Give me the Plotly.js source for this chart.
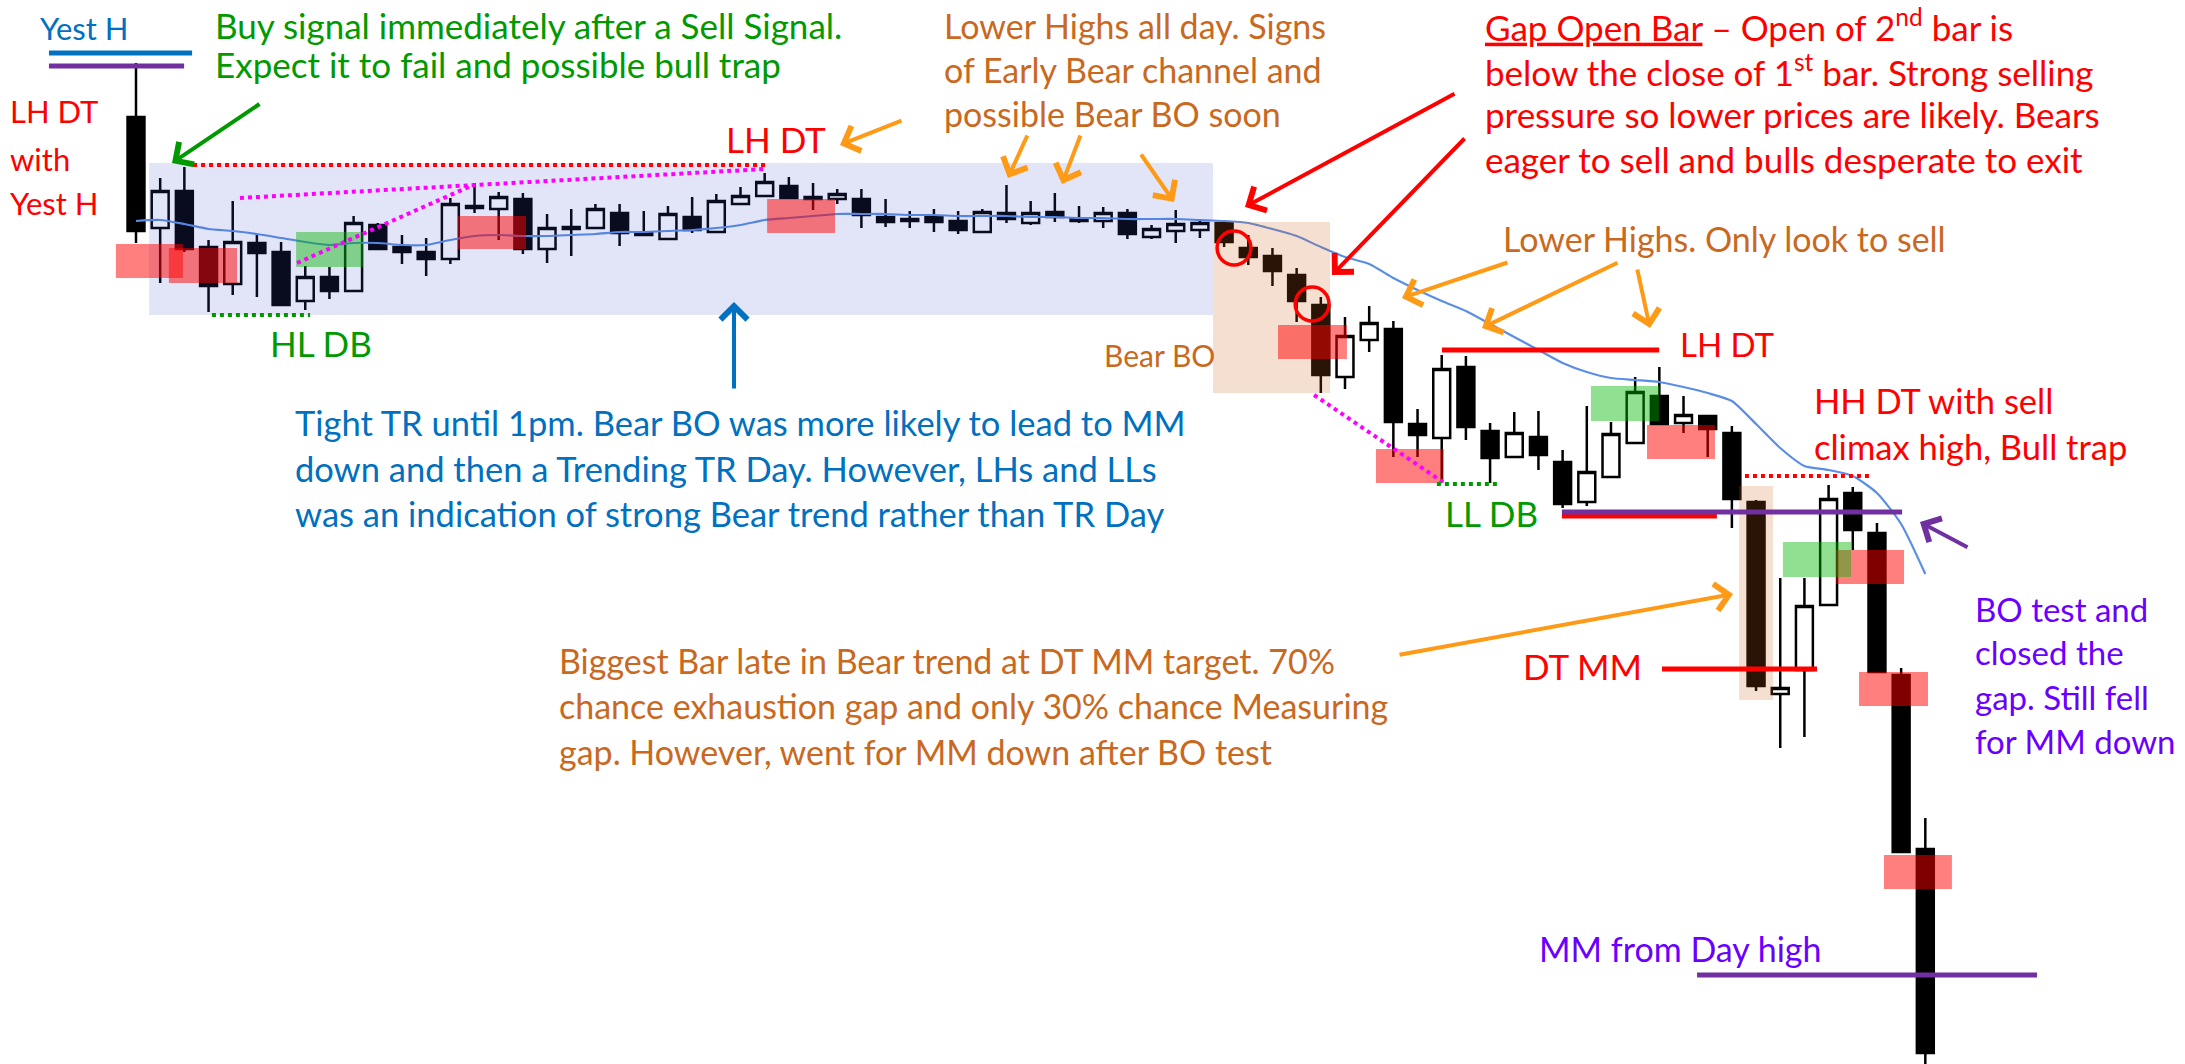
<!DOCTYPE html>
<html><head><meta charset="utf-8">
<script src="https://cdn.plot.ly/plotly-3.0.1.min.js"></script>
<style>html,body{margin:0;padding:0;background:#fff;overflow:hidden}#chart{width:2185px;height:1064px}</style>
</head><body><div id="chart"></div>
<script>
// ---- data (bar index, price units) ----
const bars = Array.from({length: 75}, (_, i) => i);
const open = [947,836,873,817,780,821,812,763,787,773,
 839,817,812,805,858,855,865,815,837,836,
 851,831,825,847,832,860,868,878,867,865,
 865,847,845,847,843,832,851,841,852,845,
 843,851,827,833,834,841,816,808,789,759,
 687,724,735,640,626,697,633,607,627,602,
 562,587,621,668,641,648,631,562,370,394,
 459,571,531,389,215];
const high = [1001,886,897,824,863,830,822,798,797,848,
 841,829,826,866,881,872,871,850,855,860,
 860,853,858,867,870,877,891,887,881,875,
 875,865,853,855,853,855,879,863,871,858,
 857,855,839,854,844,843,829,816,796,767,
 747,758,743,655,709,708,641,652,653,614,
 658,642,687,697,668,649,638,564,486,486,
 579,577,541,396,246];
const low = [821,781,812,752,769,767,758,754,765,772,
 814,800,788,800,851,824,810,801,808,835,
 818,828,824,831,831,859,867,865,854,860,
 836,837,836,832,830,831,841,839,842,841,
 836,825,825,821,826,817,799,778,742,671,
 675,712,607,607,582,624,581,606,594,556,
 558,586,620,639,631,607,536,373,316,327,
 458,514,391,211,0];
const close = [833,873,815,778,822,811,759,787,773,841,
 815,812,805,860,856,867,815,836,835,855,
 831,829,850,834,863,868,882,866,865,870,
 849,842,843,842,834,852,845,851,847,843,
 851,830,835,840,841,822,807,793,763,689,
 728,741,642,629,695,637,606,631,609,560,
 592,630,672,640,649,635,565,378,376,458,
 565,534,392,212,11];
const ema = [843,844,840,835,833,830,826,822,819,821,
 821,819,819,824,828,829,828,828,829,830,
 832,832,833,834,836,839,844,846,848,850,
 850,850,849,849,848,848,848,847,847,846,
 846,845,845,845,844,843,841,835,828,817,
 807,800,786,774,763,753,740,727,714,701,
 692,686,684,682,677,671,663,640,616,598,
 594,588,571,540,490];

// ---- styling ----
const W = 2185, H = 1064;
const FONT = 'Lato, Carlito, sans-serif';
const RED = '#ff0000', GREEN = '#009a00', ORANGE_T = '#c9691f', ORANGE_A = '#ff9a17',
      BLUE_T = '#0070c0', PURPLE_L = '#7030a0', PURPLE_T = '#6a00ff', MAG = '#ff00ff';
const REDFILL = 'rgba(255,0,0,0.5)', GREENFILL = 'rgba(0,180,0,0.43)',
      LAV = 'rgba(60,80,200,0.15)', PEACH = 'rgba(205,95,20,0.2)';

function rect(x0, x1, y0, y1, fill) {
  return {type:'rect', xref:'x', yref:'y', x0, x1, y0, y1, fillcolor: fill, line:{width:0}, layer:'above'};
}
function seg(x0, x1, y0, y1, color, width, dash) {
  return {type:'line', xref:'x', yref:'y', x0, x1, y0, y1, layer:'above',
          line:{color, width, dash: dash || 'solid'}};
}
function circ(cx, cy) {
  return {type:'circle', xref:'x', yref:'y', x0: cx-0.7, x1: cx+0.7, y0: cy-17, y1: cy+17,
          line:{color: RED, width: 3.5}, layer:'above'};
}
const shapes = [
  rect(0.54, 44.54, 749, 901, LAV),
  rect(44.54, 49.38, 671, 842, PEACH),
  rect(66.3, 67.7, 364, 578, PEACH),
  rect(-0.83, 1.94, 786, 820, REDFILL),
  rect(1.36, 4.18, 781, 816, REDFILL),
  rect(13.32, 16.13, 815, 848, REDFILL),
  rect(26.10, 28.91, 831, 865, REDFILL),
  rect(47.23, 50.08, 705, 739, REDFILL),
  rect(51.28, 54.09, 581, 615, REDFILL),
  rect(62.49, 65.30, 605, 639, REDFILL),
  rect(70.31, 73.12, 480, 514, REDFILL),
  rect(71.26, 74.11, 358, 392, REDFILL),
  rect(72.29, 75.10, 175, 209, REDFILL),
  rect(6.62, 9.39, 797, 832, GREENFILL),
  rect(60.17, 62.99, 643, 678, GREENFILL),
  rect(68.11, 70.93, 487, 522, GREENFILL),
  seg(2.36, 26.10, 899, 899, RED, 4, 'dot'),
  seg(4.30, 26.01, 866, 895, MAG, 4, 'dot'),
  seg(6.66, 13.94, 801, 879, MAG, 4, 'dot'),
  seg(48.72, 54.05, 669, 582, MAG, 4, 'dot'),
  seg(66.54, 71.71, 588, 588, RED, 4, 'dot'),
  seg(3.14, 7.20, 749, 749, GREEN, 4, 'dot'),
  seg(53.80, 56.33, 580, 580, GREEN, 4, 'dot'),
  seg(54.01, 62.99, 714, 714, RED, 5),
  seg(58.97, 65.38, 548, 548, RED, 5),
  seg(63.11, 69.52, 395, 395, RED, 5),
  seg(58.97, 73.04, 552, 552, PURPLE_L, 5),
  seg(-3.60, 2.32, 1011, 1011, BLUE_T, 5),
  seg(-3.60, 1.99, 998, 998, PURPLE_L, 5),
  seg(64.56, 78.62, 89, 89, PURPLE_L, 5),
  circ(45.41, 816),
  circ(48.64, 760)
];

// ---- annotations (positions in page pixels) ----
const ann = [];
function txt(lines, left, cys, color, size, anchor) {
  lines.forEach((t, i) => ann.push({xref:'paper', yref:'paper', x: left / W, y: 1 - cys[i] / H,
    xanchor: anchor || 'left', yanchor:'middle', text: t, showarrow:false,
    font:{family: FONT, size: size, color: color}}));
}
function arr(tail, tip, color) {
  ann.push({xref:'paper', yref:'paper', x: tip[0] / W, y: 1 - tip[1] / H,
    ax: tail[0] - tip[0], ay: tail[1] - tip[1], text:'', showarrow:true,
    arrowhead:4, arrowsize:1.3, arrowwidth:4, arrowcolor: color, standoff:0});
}
txt(['Yest H'], 38, [28], BLUE_T, 31);
txt(['LH DT', 'with', 'Yest H'], 8, [111, 159, 203], RED, 31);
txt(['Buy signal immediately after a Sell Signal.', 'Expect it to fail and possible bull trap'], 213, [25, 64], GREEN, 35);
txt(['Lower Highs all day. Signs', 'of Early Bear channel and', 'possible Bear BO soon'], 942, [25, 70, 114], ORANGE_T, 34);
txt(['<u>Gap Open Bar</u> – Open of 2<sup>nd</sup> bar is', 'below the close of 1<sup>st</sup> bar. Strong selling',
     'pressure so lower prices are likely. Bears', 'eager to sell and bulls desperate to exit'], 1483, [25, 70, 114, 159], RED, 35);
txt(['LH DT'], 776, [139], RED, 35, 'center');
txt(['Bear BO'], 1159, [355], ORANGE_T, 30, 'center');
txt(['Tight TR until 1pm. Bear BO was more likely to lead to MM', 'down and then a Trending TR Day. However, LHs and LLs',
     'was an indication of strong Bear trend rather than TR Day'], 293, [422, 468, 513], BLUE_T, 34.5);
txt(['HL DB'], 321, [343], GREEN, 35, 'center');
txt(['Lower Highs. Only look to sell'], 1501, [238], ORANGE_T, 34);
txt(['LH DT'], 1727, [344], RED, 33, 'center');
txt(['HH DT with sell', 'climax high, Bull trap'], 1812, [401, 446], RED, 34.5);
txt(['LL DB'], 1491, [513], GREEN, 35, 'center');
txt(['BO test and', 'closed the', 'gap. Still fell', 'for MM down'], 1973, [609, 652, 697, 741], PURPLE_T, 33);
txt(['Biggest Bar late in Bear trend at DT MM target. 70%', 'chance exhaustion gap and only 30% chance Measuring',
     'gap. However, went for MM down after BO test'], 557, [660, 705, 751], ORANGE_T, 34);
txt(['DT MM'], 1582, [666], RED, 35, 'center');
txt(['MM from Day high'], 1537, [948], PURPLE_T, 34);

arr([261, 103], [172, 163], GREEN);
arr([903, 120], [840, 145], ORANGE_A);
arr([1028, 134], [1008, 178], ORANGE_A);
arr([1081, 134], [1062, 184], ORANGE_A);
arr([1140, 153], [1174, 202], ORANGE_A);
arr([1456, 93], [1245, 207], RED);
arr([1466, 137], [1332, 275], RED);
arr([734, 390], [734, 302], BLUE_T);
arr([1509, 262], [1402, 298], ORANGE_A);
arr([1619, 262], [1482, 328], ORANGE_A);
arr([1637, 268], [1650, 328], ORANGE_A);
arr([1398, 655], [1733, 594], ORANGE_A);
arr([1969, 548], [1920, 522], PURPLE_L);

const traces = [
  {type:'candlestick', x: bars, open, high, low, close, whiskerwidth: 0,
   increasing:{line:{color:'#000', width:2.5}, fillcolor:'#ffffff'},
   decreasing:{line:{color:'#000', width:2.5}, fillcolor:'#000000'},
   hoverinfo:'skip', showlegend:false},
  {type:'scatter', mode:'lines', x: bars, y: ema, line:{color:'#5a8ee6', width:2.2, shape:'spline', smoothing:0.6},
   hoverinfo:'skip', showlegend:false}
];
const layout = {
  width: W, height: H, margin:{l:0, r:0, t:0, b:0, pad:0},
  paper_bgcolor:'#fff', plot_bgcolor:'#fff', showlegend:false,
  boxgap: 0.3, boxgroupgap: 0,
  xaxis:{range:[-136/24.18, (W-136)/24.18], visible:false, rangeslider:{visible:false}, fixedrange:true},
  yaxis:{range:[0, H], visible:false, fixedrange:true},
  shapes: shapes, annotations: ann
};
Plotly.newPlot('chart', traces, layout, {staticPlot:true, displayModeBar:false});
</script></body></html>
